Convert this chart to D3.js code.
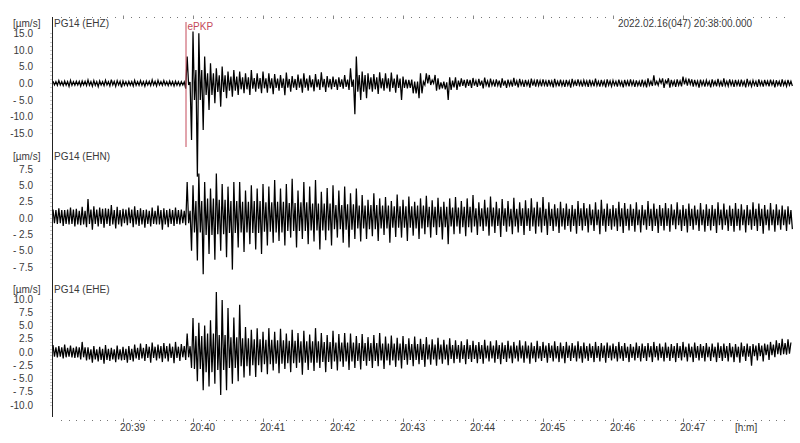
<!DOCTYPE html>
<html><head><meta charset="utf-8">
<script src="https://cdn.jsdelivr.net/npm/d3@7"></script>
<style>
html,body{margin:0;padding:0;background:#fff;}
svg{display:block;font-family:"Liberation Sans",Arial,sans-serif;}
</style></head>
<body>
<svg id="c" width="800" height="443"></svg>
<script>
// ---- data ----
const stationTitle = ["PG14 (EHZ)", "PG14 (EHN)", "PG14 (EHE)"];
const unitLabel = "[µm/s]";
const startLabel = "2022.02.16(047) 20:38:00.000";
const binSeconds = 5;   // peak bins: 5 s each, starting 20:38:00
const coreSeconds = 10; // dense-band bins: 10 s each
const timeTicks = [60, 120, 180, 240, 300, 360, 420, 480, 540];
const timeTickLabels = ["20:39", "20:40", "20:41", "20:42", "20:43", "20:44", "20:45", "20:46", "20:47"];
const pickTime = 114; // s after 20:38:00
const pickLabel = "ePKP";

const ehzTicks = [15, 10, 5, 0, -5, -10, -15];
const ehzTickLabels = ["15.0", "10.0", "5.0", "0.0", "- 5.0", "-10.0", "-15.0"];
const ehnTicks = [7.5, 5, 2.5, 0, -2.5, -5, -7.5];
const ehnTickLabels = ["7.5", "5.0", "2.5", "0.0", "- 2.5", "- 5.0", "- 7.5"];
const eheTicks = [10, 7.5, 5, 2.5, 0, -2.5, -5, -7.5, -10];
const eheTickLabels = ["10.0", "7.5", "5.0", "2.5", "0.0", "- 2.5", "- 5.0", "- 7.5", "-10.0"];

// per-bin peak values (µm/s), max and min (5 s bins)
const ehzHi = [0.6,0.8,0.7,0.9,0.6,0.7,1.0,0.8,0.7,0.9,1.1,0.8,0.7,0.6,0.9,0.8,0.7,1.0,0.9,0.8,0.7,0.6,
  0.5,8,15.5,15,8,6,4.5,5,3.5,4,3.5,3,4,3,3.5,3,
  2.8,2.5,3.2,2.2,2.6,3.0,2.4,2.8,3.3,2.2,2.0,1.8,2.5,4.5,8.0,3.5,3.0,2.8,3.3,3.0,3.2,2.6,2.0,1.0,0.5,3.0,3.0,1.0,1.5,0.5,1.8,
  1.8,1.5,1.2,1.6,1.3,1.7,1.4,1.2,1.5,1.1,1.6,1.3,1.0,1.4,1.2,
  1.2,1.0,1.3,1.1,1.0,1.3,1.2,0.9,1.1,1.4,1.0,1.2,0.9,1.1,1.0,1.2,0.9,1.1,1.5,2.4,1.2,0.8,1.0,1.2,2.0,1.4,1.0,1.1,0.9,1.2,1.3,1.5,1.2,1.0,1.1,1.3,0.9,1.2,1.0,1.1,0.9,1.2,1.0];
const ehzLo = [-0.6,-0.7,-0.9,-0.6,-0.8,-0.7,-0.9,-1.0,-0.7,-0.8,-0.9,-1.2,-0.7,-0.8,-0.6,-0.9,-0.7,-0.8,-0.6,-0.7,-0.8,-0.7,
  -1.6,-17,-28,-14,-8,-6,-7,-4.5,-4,-3.5,-3,-3.5,-2.5,-3,-2.8,-3.3,
  -2.2,-3.6,-2.5,-2.0,-2.8,-2.2,-2.4,-2.0,-2.6,-1.8,-2.0,-1.6,-2.0,-9.3,-5.0,-4.5,-2.5,-3.2,-2.2,-2.5,-2.8,-5.0,-1.5,-3.0,-4.5,-0.5,-0.5,-2.2,-1.5,-5.0,-1.2,
  -1.0,-1.3,-1.4,-1.1,-1.5,-1.2,-1.0,-1.3,-1.4,-1.0,-1.2,-1.1,-1.3,-1.0,-0.9,
  -1.0,-1.2,-0.9,-1.1,-1.3,-0.8,-1.0,-1.1,-0.9,-1.0,-1.2,-0.9,-1.0,-1.2,-0.9,-1.1,-1.0,-1.2,-0.8,-0.6,-1.4,-1.3,-1.1,-0.9,-0.7,-1.0,-1.3,-1.0,-1.2,-0.9,-1.0,-0.8,-1.1,-1.0,-1.2,-0.9,-1.1,-1.0,-0.9,-1.2,-1.0,-0.9,-0.8];

const ehnHi = [1.3,1.5,1.2,1.6,1.4,1.7,2.9,1.8,1.6,1.5,2.0,1.7,1.4,1.6,1.8,1.5,1.3,1.6,1.9,1.5,1.4,1.6,1.3,
  5.5,5,6.8,5.5,4.5,6.8,5.2,4.8,5.5,5.5,4.2,5.0,4.5,5.2,4.8,
  5.8,4.5,5.2,6.0,4.2,5.5,4.8,5.8,4.0,4.6,5.0,4.2,4.8,3.8,4.5,
  3.5,2.8,3.8,3.0,3.2,2.6,3.6,2.8,3.3,2.5,3.0,3.4,2.7,3.1,2.5,3.0,
  3.2,2.6,3.0,3.5,2.4,2.8,3.3,2.5,2.9,2.6,3.1,2.4,2.7,3.0,2.5,3.2,
  2.4,2.1,2.5,2.2,2.0,2.6,2.3,2.1,2.4,2.8,2.2,2.0,2.5,2.3,2.1,2.4,2.0,2.6,2.2,2.0,2.3,2.1,2.4,2.0,2.2,1.9,2.3,2.1,2.0,2.4,2.2,1.9,2.3,2.1,2.0,2.4,2.2,2.0,2.3,2.1,1.9,1.8];
const ehnLo = [-0.9,-1.2,-1.0,-1.3,-1.1,-1.4,-1.8,-1.3,-1.5,-1.2,-1.6,-1.3,-1.1,-1.4,-1.2,-1.5,-1.3,-1.0,-1.8,-1.4,-1.2,-1.0,-1.1,
  -5,-6.5,-8.6,-5.5,-6.4,-5,-6.0,-7.9,-4.5,-5.2,-4.0,-4.8,-5.5,-4.2,-3.8,
  -3.5,-4.2,-3.0,-4.5,-3.2,-4.0,-3.6,-4.8,-3.4,-4.2,-3.0,-3.8,-4.5,-3.2,-3.6,
  -3.2,-2.8,-3.5,-2.6,-3.8,-2.9,-3.0,-3.5,-2.7,-3.2,-2.5,-3.0,-2.6,-3.3,-4.0,-2.5,
  -2.4,-2.8,-2.2,-2.6,-2.0,-2.7,-2.3,-2.9,-2.1,-2.5,-2.2,-2.6,-2.0,-2.4,-2.2,-2.6,
  -2.0,-2.3,-1.8,-2.1,-2.4,-1.9,-2.2,-2.0,-2.5,-2.1,-1.8,-2.0,-2.3,-1.9,-2.1,-2.2,-1.8,-2.0,-2.3,-1.9,-2.1,-1.7,-2.0,-2.2,-1.8,-2.0,-2.1,-1.9,-2.3,-1.8,-2.0,-2.1,-1.9,-2.2,-1.8,-2.0,-2.4,-1.9,-2.1,-1.8,-2.0,-1.7];

const eheHi = [1.3,1.1,1.4,1.2,1.0,1.9,0.9,1.1,1.0,1.3,0.8,1.2,1.0,1.1,1.4,1.6,1.5,1.8,1.4,1.7,1.6,1.9,1.5,
  3.5,6.4,5.5,5.0,6.0,11.3,9.8,8.3,6.5,8.9,4.7,4.2,4.5,3.8,4.5,
  3.8,4.4,3.5,4.2,3.6,4.0,3.3,4.5,3.6,3.2,4.0,3.4,3.6,
  3.5,3.0,3.4,2.8,3.2,3.6,2.9,3.1,2.7,3.0,2.6,2.9,2.5,2.8,2.4,2.7,2.3,2.6,
  2.2,2.0,2.4,2.1,1.9,2.3,2.0,2.2,1.8,2.1,1.9,2.2,2.0,1.8,2.1,1.9,1.7,2.0,1.8,1.9,1.7,2.0,1.8,1.6,1.9,1.7,1.8,1.6,1.9,1.7,1.5,1.8,1.6,1.7,1.9,1.6,1.8,1.5,1.7,1.9,1.6,1.8,1.5,1.7,1.6,1.8,1.6,1.7,1.5,1.8,1.6,1.5,1.7,1.6,1.9,2.2,2.5,2.4];
const eheLo = [-1.0,-1.2,-0.9,-1.1,-1.4,-1.6,-2.0,-1.8,-2.2,-1.7,-1.9,-1.6,-2.0,-1.8,-1.5,-1.7,-2.0,-1.6,-1.9,-1.8,-2.1,-1.7,-1.5,
  -3,-5.5,-7.2,-6.5,-6.0,-8.1,-7.2,-6.0,-5.5,-4.8,-4.5,-4.7,-3.8,-4.2,-3.5,
  -4.0,-3.2,-3.8,-3.0,-4.3,-3.4,-3.6,-3.0,-3.8,-3.2,-3.5,-2.8,-3.4,
  -3.0,-3.3,-2.6,-3.0,-2.7,-3.2,-2.5,-2.8,-3.1,-2.4,-2.7,-2.3,-2.8,-2.4,-2.6,-2.2,-2.5,-2.1,
  -2.0,-2.3,-1.9,-2.1,-2.2,-1.8,-2.0,-2.3,-1.9,-2.1,-1.8,-2.0,-2.2,-1.9,-1.7,-2.0,-1.8,-1.9,-2.1,-1.7,-1.8,-2.0,-1.7,-1.9,-1.8,-2.0,-1.6,-1.8,-1.7,-1.9,-1.6,-1.8,-1.7,-1.9,-1.6,-1.8,-1.7,-1.9,-1.6,-1.8,-1.9,-1.6,-1.8,-1.7,-1.9,-1.7,-1.8,-1.9,-2.0,-1.7,-2.6,-1.6,-1.8,-1.5,-1.0,-0.6,-0.5];

// dense band (upper / lower edge of the solid black core), 10 s bins
const ehzCoreHi = [0.5,0.5,0.6,0.5,0.5,0.6,0.5,0.5,0.6,0.5,0.5,0.4,
  4,3,2.4,2.0,1.8,1.6,1.5,1.4,1.3,1.4,1.2,1.3,1.2,1.1,2.5,1.8,1.5,1.4,1.1,0.5,2.5,0.3,0.8,1.0,
  0.8,0.7,0.8,0.7,0.7,0.8,0.7,0.6,0.7,0.7,0.6,0.7,0.6,0.7,0.6,0.6,1.5,0.7,1.2,0.7,0.6,0.6,0.7,0.6,0.6,0.7,0.6,0.6];
const ehzCoreLo = [-0.5,-0.6,-0.5,-0.6,-0.5,-0.5,-0.6,-0.6,-0.5,-0.5,-0.6,-0.5,
  -5,-3.5,-2.6,-2.2,-1.8,-1.6,-1.5,-1.4,-1.3,-1.3,-1.2,-1.2,-1.1,-1.1,-2.5,-1.8,-1.5,-1.4,-1.4,-3.0,0,-1.8,-2.0,-0.8,
  -0.7,-0.6,-0.7,-0.7,-0.6,-0.7,-0.6,-0.7,-0.6,-0.6,-0.7,-0.6,-0.6,-0.6,-0.7,-0.6,0,-0.6,-0.3,-0.6,-0.6,-0.7,-0.6,-0.6,-0.6,-0.5,-0.6,-0.6];
const ehnCoreHi = [1.2,1.3,1.1,1.3,1.4,1.2,1.3,1.2,1.1,1.2,1.2,1.1,
  2.6,3.0,2.8,2.6,2.5,2.6,2.4,2.5,2.3,2.4,2.2,2.2,2.0,2.1,1.9,2.0,1.9,1.8,1.8,1.9,1.7,1.7,1.6,1.7,
  1.5,1.6,1.5,1.4,1.5,1.6,1.4,1.5,1.4,1.5,1.3,1.4,1.5,1.4,1.3,1.4,1.5,1.3,1.4,1.3,1.4,1.3,1.4,1.3,1.4,1.3,1.3,1.2];
const ehnCoreLo = [-0.8,-0.9,-1.0,-0.9,-0.9,-1.0,-0.8,-1.0,-0.9,-1.0,-0.9,-0.8,
  -2.2,-2.6,-2.5,-2.3,-2.2,-2.3,-2.1,-2.2,-2.0,-2.0,-1.9,-1.9,-1.7,-1.8,-1.6,-1.7,-1.6,-1.5,-1.5,-1.6,-1.4,-1.4,-1.3,-1.4,
  -1.3,-1.3,-1.2,-1.3,-1.2,-1.3,-1.2,-1.3,-1.2,-1.2,-1.1,-1.2,-1.3,-1.2,-1.1,-1.2,-1.2,-1.1,-1.2,-1.1,-1.2,-1.1,-1.2,-1.1,-1.2,-1.1,-1.1,-1.0];
const eheCoreHi = [0.9,0.8,0.9,0.5,0.6,0.5,0.6,0.8,1.0,1.1,1.0,1.1,
  3.0,3.5,3.2,2.8,2.6,2.4,2.3,2.2,2.1,2.0,2.0,1.9,1.8,1.8,1.7,1.7,1.6,1.6,1.5,1.5,1.4,1.4,1.3,1.3,
  1.3,1.2,1.3,1.2,1.2,1.1,1.2,1.1,1.2,1.1,1.1,1.2,1.1,1.0,1.1,1.1,1.0,1.1,1.0,1.1,1.0,1.1,1.0,1.1,1.2,1.4,1.7,1.8];
const eheCoreLo = [-0.9,-1.0,-1.0,-1.4,-1.5,-1.4,-1.5,-1.2,-1.1,-1.2,-1.1,-1.0,
  -3.2,-3.8,-3.4,-3.0,-2.7,-2.5,-2.3,-2.2,-2.1,-2.0,-2.0,-1.9,-1.8,-1.8,-1.7,-1.7,-1.6,-1.6,-1.5,-1.5,-1.4,-1.4,-1.3,-1.3,
  -1.3,-1.2,-1.3,-1.2,-1.2,-1.2,-1.1,-1.2,-1.1,-1.2,-1.1,-1.1,-1.2,-1.1,-1.1,-1.0,-1.1,-1.1,-1.0,-1.1,-1.0,-1.1,-1.0,-0.9,-0.8,-0.6,-0.4,-0.3];

// ---- drawing ----
const svg = d3.select("#c");
const font = "Liberation Sans, Arial, sans-serif";
const textColor = "#3a3a3a";
const fs = 10;
const axisX = 52.5;
const x = d3.scaleLinear().domain([0, 600]).range([53, 753]);

const panels = [
  {title: stationTitle[0], hi: ehzHi, lo: ehzLo, cHi: ehzCoreHi, cLo: ehzCoreLo, ticks: ehzTicks, labels: ehzTickLabels,
   y: d3.scaleLinear().domain([-15, 15]).range([133.3, 33.3]), titleY: 26.5},
  {title: stationTitle[1], hi: ehnHi, lo: ehnLo, cHi: ehnCoreHi, cLo: ehnCoreLo, ticks: ehnTicks, labels: ehnTickLabels,
   y: d3.scaleLinear().domain([-7.5, 7.5]).range([267, 169]), titleY: 159.5},
  {title: stationTitle[2], hi: eheHi, lo: eheLo, cHi: eheCoreHi, cLo: eheCoreLo, ticks: eheTicks, labels: eheTickLabels,
   y: d3.scaleLinear().domain([-10, 10]).range([405, 299]), titleY: 292.5}
];

// vertical axis line
svg.append("line").attr("x1", axisX).attr("x2", axisX).attr("y1", 17).attr("y2", 417)
  .attr("stroke", "#222").attr("stroke-width", 1);

// top & bottom dotted time ticks
const minor = d3.range(0, 640, 60/9);
[17.5, 420.5].forEach(yy => {
  svg.append("g").selectAll("rect").data(minor.filter(t => x(t) > 54 && x(t) < 785)).join("rect")
    .attr("x", t => Math.round(x(t))).attr("y", yy - 0.5).attr("width", 1).attr("height", 1)
    .attr("fill", "#777");
  svg.append("g").selectAll("line").data(timeTicks).join("line")
    .attr("x1", t => Math.round(x(t)) + 0.5).attr("x2", t => Math.round(x(t)) + 0.5)
    .attr("y1", yy - 2).attr("y2", yy + 1.5).attr("stroke", "#888").attr("stroke-width", 1);
});

panels.forEach((p, i) => {
  // y axis ticks + labels
  const ax = d3.axisLeft(p.y).tickValues(p.ticks).tickSize(0).tickPadding(0)
    .tickFormat((d, j) => p.labels[j]);
  const g = svg.append("g").attr("transform", `translate(33,0)`).call(ax);
  g.select(".domain").remove();
  g.selectAll("text").attr("font-size", fs).attr("font-family", font).attr("fill", textColor);
  // minor y dots
  const step = (p.ticks[0] - p.ticks[1]) / 4;
  const dmin = p.y.domain()[0], dmax = p.y.domain()[1];
  svg.append("g").selectAll("rect").data(d3.range(dmin, dmax + step / 2, step)).join("rect")
    .attr("x", axisX - 2).attr("y", d => Math.round(p.y(d))).attr("width", 1).attr("height", 1)
    .attr("fill", "#999");
  // unit label & title
  svg.append("text").attr("x", 13).attr("y", p.titleY).text(unitLabel)
    .attr("font-size", fs).attr("font-family", font).attr("fill", textColor);
  svg.append("text").attr("x", 54).attr("y", p.titleY).text(p.title)
    .attr("font-size", fs).attr("font-family", font).attr("fill", textColor);

  // trace: per 5 s bin, peak max -> band low -> band high -> peak min
  const pts = [];
  p.hi.forEach((v, k) => {
    const t = k * binSeconds;
    const c = Math.floor(t / coreSeconds);
    pts.push([t, v]);
    pts.push([t + 1.25, p.cLo[c]]);
    pts.push([t + 2.5, p.cHi[c]]);
    pts.push([t + 3.75, p.lo[k]]);
  });
  svg.append("path").datum(pts)
    .attr("d", d3.line().x(d => x(d[0])).y(d => p.y(d[1])))
    .attr("fill", "none").attr("stroke", "#000").attr("stroke-width", 1.25);
});

// pick marker
svg.append("line").attr("x1", x(pickTime)).attr("x2", x(pickTime)).attr("y1", 22).attr("y2", 147)
  .attr("stroke", "#c44a5a").attr("stroke-width", 1);
svg.append("text").attr("x", x(pickTime) + 1.5).attr("y", 30).text(pickLabel)
  .attr("font-size", fs).attr("font-family", font).attr("fill", "#c44a5a");

// start time label
svg.append("text").attr("x", 752).attr("y", 26.5).attr("text-anchor", "end").text(startLabel)
  .attr("font-size", fs).attr("font-family", font).attr("fill", textColor)
  .attr("textLength", 134).attr("lengthAdjust", "spacingAndGlyphs");

// time labels
svg.append("g").selectAll("text").data(timeTicks).join("text")
  .attr("x", t => x(t) - 3).attr("y", 431).text((t, j) => timeTickLabels[j])
  .attr("font-size", fs).attr("font-family", font).attr("fill", textColor);
svg.append("text").attr("x", 735).attr("y", 431).text("[h:m]")
  .attr("font-size", fs).attr("font-family", font).attr("fill", textColor);
</script>
</body></html>
